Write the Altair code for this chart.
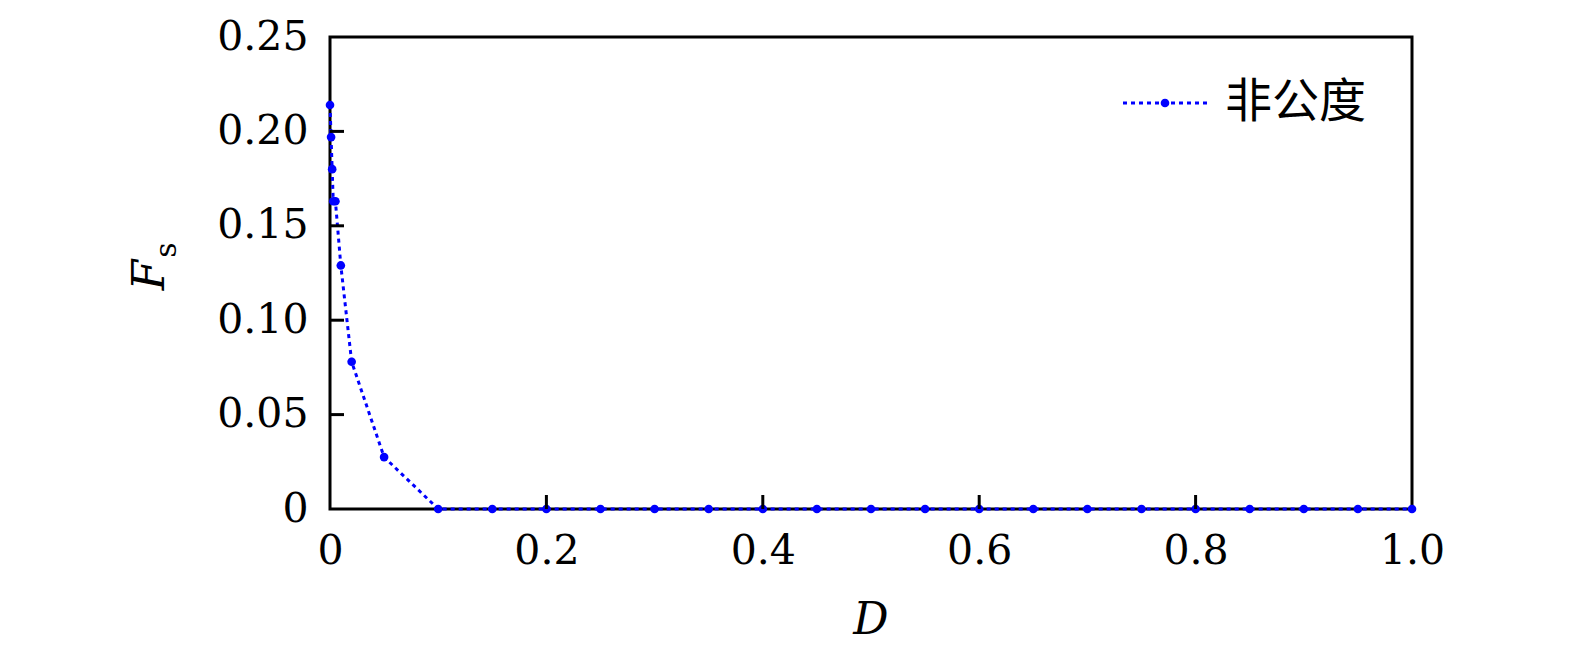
import altair as alt
import pandas as pd

# Data
D = [0, 0.001, 0.002, 0.003, 0.005, 0.01, 0.02, 0.05, 0.1, 0.15, 0.2, 0.25, 0.3,
     0.35, 0.4, 0.45, 0.5, 0.55, 0.6, 0.65, 0.7, 0.75, 0.8, 0.85, 0.9, 0.95, 1.0]
Fs = [0.214, 0.197, 0.180, 0.163, 0.163, 0.129, 0.078, 0.0275, 0, 0, 0, 0, 0,
      0, 0, 0, 0, 0, 0, 0, 0, 0, 0, 0, 0, 0, 0]
series_name = "非公度"
x_ticks = [0, 0.2, 0.4, 0.6, 0.8, 1.0]
y_ticks = [0, 0.05, 0.10, 0.15, 0.20, 0.25]
x_inner_ticks = [0.2, 0.4, 0.6, 0.8]
y_inner_ticks = [0.05, 0.10, 0.15, 0.20]
x_title = "D"
y_title_main = "F"
y_title_sub = "s"

W, H = 1082, 472
BLUE = "#0000ff"
SERIF = "DejaVu Serif"

df = pd.DataFrame({"D": D, "Fs": Fs, "series": [series_name] * len(D)})

xs = alt.Scale(domain=[0, 1.0], nice=False, zero=False)
ys = alt.Scale(domain=[0, 0.25], nice=False)

x_axis = alt.Axis(values=x_ticks, labelExpr="datum.value == 0 ? '0' : format(datum.value, '.1f')",
                  title=None, grid=False, domain=False, ticks=False, labelFont=SERIF,
                  labelFontSize=41, labelColor="black", labelPadding=22, labelFlush=False)
y_axis = alt.Axis(values=y_ticks, labelExpr="datum.value == 0 ? '0' : format(datum.value, '.2f')",
                  title=None, grid=False, domain=False, ticks=False, labelFont=SERIF,
                  labelFontSize=41, labelColor="black", labelPadding=22, labelFlush=False)

base = alt.Chart(df)
line = base.mark_line(color=BLUE, strokeWidth=3, strokeDash=[4, 4]).encode(
    x=alt.X("D:Q", scale=xs, axis=x_axis),
    y=alt.Y("Fs:Q", scale=ys, axis=y_axis),
)
pts = base.mark_point(filled=True, color=BLUE, size=75, opacity=1).encode(
    x=alt.X("D:Q", scale=xs),
    y=alt.Y("Fs:Q", scale=ys),
)

xt = alt.Chart(pd.DataFrame({"v": x_inner_ticks})).mark_rule(color="black", strokeWidth=3).encode(
    x=alt.X("v:Q", scale=xs), y=alt.value(H), y2=alt.value(H - 14))
yt = alt.Chart(pd.DataFrame({"v": y_inner_ticks})).mark_rule(color="black", strokeWidth=3).encode(
    y=alt.Y("v:Q", scale=ys), x=alt.value(0), x2=alt.value(14))

# axis titles
xtitle = alt.Chart(pd.DataFrame({"t": [x_title]})).mark_text(
    font=SERIF, fontStyle="italic", fontSize=44, color="black", align="center", baseline="middle"
).encode(text="t:N", x=alt.value(541), y=alt.value(584))
ytitle = alt.Chart(pd.DataFrame({"t": [y_title_main]})).mark_text(
    font=SERIF, fontStyle="italic", fontSize=44, color="black", align="center", baseline="middle", angle=270
).encode(text="t:N", x=alt.value(-179), y=alt.value(238))
ysub = alt.Chart(pd.DataFrame({"t": [y_title_sub]})).mark_text(
    font=SERIF, fontSize=30, color="black", align="center", baseline="middle", angle=270
).encode(text="t:N", x=alt.value(-163), y=alt.value(213))

# legend
leg_df = pd.DataFrame({"t": [series_name]})
leg_line = alt.Chart(leg_df).mark_rule(color=BLUE, strokeWidth=3, strokeDash=[4, 4]).encode(
    x=alt.value(793), x2=alt.value(878), y=alt.value(66))
leg_pt = alt.Chart(leg_df).mark_point(filled=True, color=BLUE, size=75, opacity=1).encode(
    x=alt.value(835), y=alt.value(66))
leg_txt = alt.Chart(leg_df).mark_text(
    font="Noto Sans CJK SC", fontSize=47, color="black", align="left", baseline="middle"
).encode(text="t:N", x=alt.value(895), y=alt.value(66))

chart = alt.layer(line, pts, xt, yt, xtitle, ytitle, ysub, leg_line, leg_pt, leg_txt).properties(
    width=W, height=H,
    padding={"left": 322, "top": 29, "right": 150, "bottom": 148},
    autosize=alt.AutoSizeParams(type="none"),
    background="white",
).configure_view(stroke="black", strokeWidth=3)

chart.save("out.html", embed_options={"renderer": "svg", "actions": False})
